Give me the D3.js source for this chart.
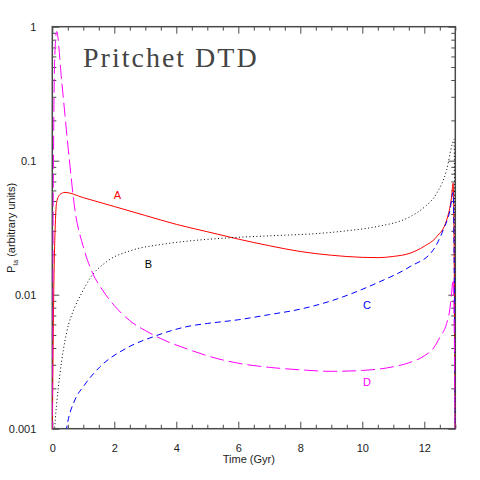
<!DOCTYPE html>
<html>
<head>
<meta charset="utf-8">
<script src="https://cdn.jsdelivr.net/npm/d3@7"></script>
<style>
  body { margin: 0; background: #fff; }
  svg { display: block; }
  .tick text { font-family: "Liberation Sans", Arial, sans-serif; font-size: 11px; fill: #222; }
</style>
</head>
<body>
<div id="chart"></div>
<script>
// curve A (red, solid)
const tA = [0, 0.05, 0.09, 0.14, 0.25, 0.41, 1.0, 2.0, 3.0, 4.0, 5.0, 6.0, 7.0, 8.0, 9.0, 10.0, 10.5, 11.0, 11.54, 12.0, 12.4, 12.72, 12.88, 12.93, 13.0];
const vA = [0.0009, 0.012, 0.030, 0.049, 0.056, 0.058, 0.053, 0.0455, 0.039, 0.0335, 0.0295, 0.026, 0.0232, 0.021, 0.0197, 0.019, 0.0189, 0.0193, 0.0204, 0.023, 0.0271, 0.036, 0.0538, 0.068, 0.0009];
// curve B (black, dotted)
const tB = [0.06, 0.1, 0.25, 0.46, 0.73, 0.95, 1.22, 1.75, 2.61, 3.5, 4.44, 5.73, 7.0, 8.64, 9.5, 10.46, 11.54, 12.0, 12.4, 12.72, 12.91, 12.96, 13.0];
const vB = [0.0009, 0.0012, 0.0026, 0.0052, 0.0081, 0.0103, 0.0133, 0.0176, 0.0216, 0.0237, 0.0252, 0.0266, 0.0275, 0.0287, 0.030, 0.0322, 0.0382, 0.045, 0.0571, 0.0853, 0.135, 0.145, 0.0009];
// curve C (blue, dashed)
const tC = [0.4, 0.46, 0.73, 1.0, 1.54, 2.4, 3.26, 4.44, 5.0, 6.0, 7.0, 8.0, 9.0, 10.46, 11.54, 12.29, 12.61, 12.83, 12.93, 13.0];
const vC = [0.0008, 0.001, 0.00164, 0.00206, 0.0029, 0.004, 0.00486, 0.00584, 0.0061, 0.0065, 0.0071, 0.0078, 0.009, 0.0122, 0.0162, 0.0216, 0.0304, 0.0429, 0.058, 0.0009];
// curve D (magenta, long dash)
const tD = [0.0, 0.03, 0.08, 0.14, 0.30, 0.54, 0.73, 1.0, 1.3, 1.6, 2.0, 2.5, 3.0, 3.5, 4.44, 5.0, 6.0, 7.0, 8.0, 9.0, 10.0, 11.0, 11.5, 12.0, 12.3, 12.5, 12.72, 12.82, 12.88, 12.93, 13.0];
const vD = [0.0009, 0.05, 0.6, 0.92, 0.40, 0.107, 0.043, 0.0228, 0.0145, 0.011, 0.0083, 0.0064, 0.0054, 0.0047, 0.00387, 0.0035, 0.00308, 0.00287, 0.00275, 0.00268, 0.00272, 0.0029, 0.0031, 0.0035, 0.004, 0.0048, 0.0061, 0.0077, 0.0102, 0.013, 0.0009];

const xTicks = [0, 2, 4, 6, 8, 10, 12];
const yTicks = [0.001, 0.01, 0.1, 1];
const yTickLabels = ["0.001", "0.01", "0.1", "1"];
const curveLabels = ["A", "B", "C", "D"];
const labelT = [2.1, 3.1, 10.15, 10.15];
const labelV = [0.052, 0.0159, 0.0078, 0.0021];

const series = [
    {t: tA, v: vA, color: "#ff0000", dash: null},
    {t: tB, v: vB, color: "#000000", dash: "1,2.5"},
    {t: tC, v: vC, color: "#0000ff", dash: "6,4"},
    {t: tD, v: vD, color: "#ff00ff", dash: "14,5"}
];

const W = 480, H = 480;
const margin = {left: 52.3, right: 24.7, top: 26.7, bottom: 51.3};
const width = W - margin.left - margin.right;
const height = H - margin.top - margin.bottom;

const svg = d3.select("#chart").append("svg")
    .attr("width", W)
    .attr("height", H);

const g = svg.append("g")
    .attr("transform", `translate(${margin.left}, ${margin.top})`);

const x = d3.scaleLinear().domain([0, 13]).range([0, width]);
const y = d3.scaleLog().domain([0.001, 1]).range([height, 0]);

g.append("defs").append("clipPath").attr("id", "clip")
  .append("rect").attr("width", width).attr("height", height);

// minor tick values
const xMinor = d3.range(0, 13.01, 0.5).filter(d => d % 2 !== 0);
const yMinor = [];
[0.001, 0.01, 0.1].forEach(b => { for (let k = 2; k <= 9; k++) yMinor.push(b * k); });

const axisColor = "#4a4a4a";

function styleAxis(sel) {
    sel.select(".domain").remove();
    sel.selectAll("line").attr("stroke", axisColor).attr("stroke-width", 1);
}

// bottom
g.append("g").attr("transform", `translate(0,${height})`)
    .call(d3.axisBottom(x).tickValues(xTicks).tickSize(-7).tickPadding(16).tickFormat(d3.format("d")))
    .call(styleAxis);
g.append("g").attr("transform", `translate(0,${height})`)
    .call(d3.axisBottom(x).tickValues(xMinor).tickSize(-4).tickFormat(""))
    .call(styleAxis);
// top
g.append("g")
    .call(d3.axisTop(x).tickValues(xTicks).tickSize(-7).tickFormat(""))
    .call(styleAxis);
g.append("g")
    .call(d3.axisTop(x).tickValues(xMinor).tickSize(-4).tickFormat(""))
    .call(styleAxis);
// left
g.append("g")
    .call(d3.axisLeft(y).tickValues(yTicks).tickSize(-7).tickPadding(16).tickFormat((d, i) => yTickLabels[i]))
    .call(styleAxis);
g.append("g")
    .call(d3.axisLeft(y).tickValues(yMinor).tickSize(-4).tickFormat(""))
    .call(styleAxis);
// right
g.append("g").attr("transform", `translate(${width},0)`)
    .call(d3.axisRight(y).tickValues(yTicks).tickSize(-7).tickFormat(""))
    .call(styleAxis);
g.append("g").attr("transform", `translate(${width},0)`)
    .call(d3.axisRight(y).tickValues(yMinor).tickSize(-4).tickFormat(""))
    .call(styleAxis);

// frame
g.append("rect")
    .attr("width", width).attr("height", height)
    .attr("fill", "none")
    .attr("stroke", axisColor)
    .attr("stroke-width", 1.5);

const line = d3.line()
    .x(d => x(d[0]))
    .y(d => y(d[1]))
    .curve(d3.curveMonotoneX);

const plot = g.append("g").attr("clip-path", "url(#clip)");

series.forEach(s => {
    plot.append("path")
        .datum(s.t.map((t, i) => [t, s.v[i]]))
        .attr("fill", "none")
        .attr("stroke", s.color)
        .attr("stroke-width", 1)
        .attr("stroke-dasharray", s.dash)
        .attr("d", line);
});

// curve labels
g.selectAll("text.clabel")
    .data(curveLabels)
    .enter().append("text")
      .attr("class", "clabel")
      .attr("x", (d, i) => x(labelT[i]))
      .attr("y", (d, i) => y(labelV[i]))
      .attr("text-anchor", "middle")
      .style("font-family", "Liberation Sans, Arial, sans-serif")
      .style("font-size", "11px")
      .style("fill", (d, i) => series[i].color)
      .text(d => d);

// title
svg.append("text")
    .attr("x", 83)
    .attr("y", 67)
    .style("font-family", "Liberation Serif, serif")
    .style("font-size", "28px")
    .style("letter-spacing", "2px")
    .style("fill", "#444")
    .text("Pritchet DTD");

// axis titles
svg.append("text")
    .attr("x", margin.left + width / 2 - 5)
    .attr("y", 463)
    .attr("text-anchor", "middle")
    .style("font-family", "Liberation Sans, Arial, sans-serif")
    .style("font-size", "11px")
    .style("fill", "#222")
    .text("Time (Gyr)");

const ylab = svg.append("text")
    .attr("transform", "translate(15,228) rotate(-90)")
    .attr("text-anchor", "middle")
    .style("font-family", "Liberation Sans, Arial, sans-serif")
    .style("font-size", "11px")
    .style("fill", "#222");
ylab.append("tspan").text("P");
ylab.append("tspan").attr("dy", 3).style("font-size", "7px").text("Ia");
ylab.append("tspan").attr("dy", -3).text(" (arbitrary units)");
</script>
</body>
</html>
